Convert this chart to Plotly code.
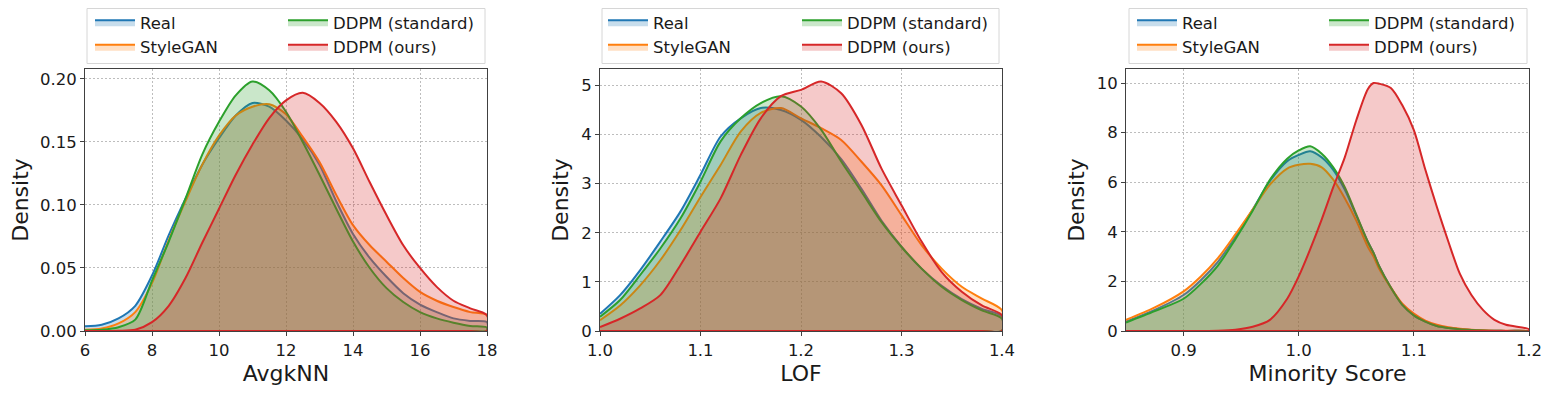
import plotly.graph_objects as go
from plotly.subplots import make_subplots

SERIES = ["Real", "StyleGAN", "DDPM (standard)", "DDPM (ours)"]
COLORS = ["#1f77b4", "#ff7f0e", "#2ca02c", "#d62728"]
FILLS = ["rgba(31,119,180,0.25)", "rgba(255,127,14,0.25)",
         "rgba(44,160,44,0.25)", "rgba(214,39,40,0.25)"]

# AvgkNN panel
avgknn_x = [6, 6.5, 7, 7.5, 8, 8.5, 9, 9.5, 10, 10.5, 11, 11.5, 12,
            12.5, 13, 13.5, 14, 14.5, 15, 15.5, 16, 16.5, 17, 17.5, 18]
avgknn_real = [0.0037, 0.005, 0.010, 0.020, 0.044, 0.076, 0.105, 0.132, 0.153,
               0.171, 0.181, 0.178, 0.167, 0.152, 0.132, 0.103, 0.077, 0.058,
               0.043, 0.030, 0.021, 0.015, 0.010, 0.008, 0.007]
avgknn_stylegan = [0.001, 0.002, 0.006, 0.015, 0.038, 0.072, 0.103, 0.132, 0.155,
                   0.171, 0.178, 0.180, 0.172, 0.154, 0.134, 0.108, 0.084, 0.068,
                   0.055, 0.042, 0.031, 0.024, 0.019, 0.015, 0.0125]
avgknn_ddpm_std = [0.0005, 0.001, 0.003, 0.009, 0.040, 0.071, 0.105, 0.140, 0.166,
                   0.187, 0.198, 0.191, 0.174, 0.150, 0.124, 0.097, 0.071, 0.050,
                   0.034, 0.023, 0.015, 0.010, 0.0066, 0.004, 0.0027]
avgknn_ddpm_ours = [0, 0, 0.0002, 0.001, 0.007, 0.020, 0.042, 0.070, 0.097,
                    0.124, 0.148, 0.169, 0.183, 0.189, 0.181, 0.166, 0.145, 0.118,
                    0.092, 0.068, 0.050, 0.035, 0.024, 0.018, 0.0125]

# LOF panel
lof_x = [1.0, 1.02, 1.04, 1.06, 1.08, 1.10, 1.12, 1.14, 1.16, 1.18, 1.20,
         1.22, 1.24, 1.26, 1.28, 1.30, 1.32, 1.34, 1.36, 1.38, 1.40]
lof_real = [0.35, 0.73, 1.24, 1.82, 2.43, 3.18, 3.96, 4.33, 4.54, 4.50, 4.30,
            3.95, 3.50, 2.90, 2.25, 1.72, 1.27, 0.92, 0.65, 0.45, 0.30]
lof_stylegan = [0.22, 0.52, 0.93, 1.44, 2.05, 2.73, 3.38, 4.06, 4.44, 4.54, 4.33,
                4.13, 3.89, 3.45, 2.97, 2.36, 1.75, 1.27, 0.90, 0.66, 0.42]
lof_ddpm_std = [0.29, 0.63, 1.14, 1.68, 2.29, 3.04, 3.86, 4.33, 4.64, 4.78, 4.57,
                4.10, 3.45, 2.84, 2.22, 1.71, 1.27, 0.90, 0.63, 0.42, 0.25]
lof_ddpm_ours = [0.08, 0.25, 0.46, 0.73, 1.34, 2.02, 2.70, 3.58, 4.33, 4.78, 4.91,
                 5.08, 4.84, 4.20, 3.31, 2.56, 1.82, 1.20, 0.80, 0.52, 0.32]

# Minority Score panel
ms_x = [0.85, 0.875, 0.9, 0.915, 0.93, 0.945, 0.96, 0.975, 0.99, 1.0, 1.01,
        1.02, 1.03, 1.04, 1.05, 1.06, 1.065, 1.07, 1.08, 1.09, 1.1, 1.11,
        1.12, 1.13, 1.14, 1.15, 1.16, 1.17, 1.18, 1.2]
ms_real = [0.38, 0.85, 1.45, 2.05, 2.8, 3.8, 4.9, 6.05, 6.85, 7.1, 7.25, 7.0, 6.5,
           5.7, 4.65, 3.6, 3.15, 2.6, 1.75, 1.05, 0.63, 0.38, 0.2, 0.12, 0.07,
           0.04, 0.02, 0.01, 0.005, 0.002]
ms_stylegan = [0.45, 0.95, 1.6, 2.2, 2.95, 3.9, 4.9, 5.9, 6.55, 6.7, 6.74, 6.6, 6.1,
               5.35, 4.45, 3.4, 3.0, 2.5, 1.75, 1.1, 0.7, 0.42, 0.25, 0.15, 0.09,
               0.05, 0.03, 0.015, 0.008, 0.003]
ms_ddpm_std = [0.34, 0.8, 1.3, 1.9, 2.65, 3.7, 4.85, 6.1, 6.95, 7.28, 7.45, 7.15, 6.6,
               5.8, 4.7, 3.6, 3.15, 2.6, 1.75, 1.05, 0.63, 0.38, 0.2, 0.12, 0.07,
               0.04, 0.02, 0.01, 0.005, 0.002]
ms_ddpm_ours = [0, 0, 0, 0.002, 0.01, 0.05, 0.17, 0.45, 1.3, 2.2, 3.3, 4.5, 5.8,
                7.0, 8.5, 9.75, 10.0, 9.97, 9.8, 9.1, 8.1, 6.5, 5.0, 3.6, 2.3,
                1.45, 0.85, 0.45, 0.25, 0.07]

panels = [
    dict(x=avgknn_x, ys=[avgknn_real, avgknn_stylegan, avgknn_ddpm_std, avgknn_ddpm_ours],
         title="AvgkNN", xrange=[6, 18], xtick=[6, 8, 10, 12, 14, 16, 18], xfmt="d",
         yrange=[0, 0.2079], ytick=[0, 0.05, 0.10, 0.15, 0.20], yfmt=".2f"),
    dict(x=lof_x, ys=[lof_real, lof_stylegan, lof_ddpm_std, lof_ddpm_ours],
         title="LOF", xrange=[1.0, 1.4], xtick=[1.0, 1.1, 1.2, 1.3, 1.4], xfmt=".1f",
         yrange=[0, 5.334], ytick=[0, 1, 2, 3, 4, 5], yfmt="d"),
    dict(x=ms_x, ys=[ms_real, ms_stylegan, ms_ddpm_std, ms_ddpm_ours],
         title="Minority Score", xrange=[0.85, 1.2], xtick=[0.9, 1.0, 1.1, 1.2], xfmt=".1f",
         yrange=[0, 10.565], ytick=[0, 2, 4, 6, 8, 10], yfmt="d"),
]

# the page body adds an 8px margin, so the figure is a bit smaller than the window
OFF = 8
W, H = 1552 - 2 * OFF, 394 - 2 * OFF
ML, MT = 85 - OFF, 69 - OFF
MR = W - (1529 - OFF)
MB = H - (331 - OFF)
PW = W - ML - MR
PH = H - MT - MB


def px_x(p):
    # reference pixel -> paper x
    return (p - OFF - ML) / PW


def px_y(p):
    # reference pixel -> paper y
    return (H - MB - (p - OFF)) / PH


# pixel positions
plot_px = [(85, 487), (600, 1002), (1126, 1529)]
frame_px = [(87, 485), (602, 999), (1129, 1527)]
col_px = [(95, 288), (608, 802), (1137, 1329)]
row_px = [22.5, 47]

FONT = "DejaVu Sans"
fig = make_subplots(rows=1, cols=3)

layout = dict(
    width=W,
    height=H,
    template="none",
    showlegend=True,
    margin=dict(l=ML, r=MR, t=MT, b=MB, autoexpand=False),
    paper_bgcolor="white",
    plot_bgcolor="white",
    font=dict(family=FONT, size=16, color="#1a1a1a"),
    shapes=[],
)

n_leg = 0
for i, p in enumerate(panels):
    base = [0] * len(p["x"])
    for k, name in enumerate(SERIES):
        n_leg += 1
        leg = "legend" if n_leg == 1 else f"legend{n_leg}"
        col, row = (0, k) if k < 2 else (1, k - 2)
        fig.add_trace(
            go.Scatter(
                x=p["x"] + p["x"][::-1],
                y=p["ys"][k] + base,
                mode="lines",
                fill="toself",
                fillcolor=FILLS[k],
                line=dict(color=COLORS[k], width=2, shape="spline", smoothing=0.8),
                name=name,
                legend=leg,
                showlegend=True,
                hoverinfo="skip",
            ),
            row=1,
            col=i + 1,
        )
        layout[leg] = dict(
            x=px_x(col_px[i][col] - 5),
            xanchor="left",
            y=px_y(row_px[row]),
            yanchor="middle",
            bgcolor="rgba(0,0,0,0)",
            borderwidth=0,
            font=dict(family=FONT, size=16.5, color="#1a1a1a"),
            itemwidth=40,
        )

for i, p in enumerate(panels):
    sfx = "" if i == 0 else str(i + 1)
    x0, x1 = plot_px[i]
    layout["xaxis" + sfx] = dict(
        domain=[px_x(x0), px_x(x1)],
        range=p["xrange"],
        tickvals=p["xtick"],
        tickformat=p["xfmt"],
        showline=True, mirror=True, linecolor="#404040", linewidth=1,
        ticks="outside", ticklen=4, tickcolor="#404040",
        showgrid=True, gridcolor="#bdbdbd", griddash="1.5px,2.5px", gridwidth=1,
        zeroline=False,
        tickfont=dict(size=16.5),
        title=dict(text=p["title"], font=dict(size=22), standoff=8),
    )
    layout["yaxis" + sfx] = dict(
        domain=[0, 1],
        range=p["yrange"],
        tickvals=p["ytick"],
        tickformat=p["yfmt"],
        showline=True, mirror=True, linecolor="#404040", linewidth=1,
        ticks="outside", ticklen=4, tickcolor="#404040",
        showgrid=True, gridcolor="#bdbdbd", griddash="1.5px,2.5px", gridwidth=1,
        zeroline=False,
        tickfont=dict(size=16.5),
        title=dict(text="Density", font=dict(size=22), standoff=6),
    )
    fx0, fx1 = frame_px[i]
    layout["shapes"].append(dict(
        type="rect", xref="paper", yref="paper",
        x0=px_x(fx0), x1=px_x(fx1), y0=px_y(63.5), y1=px_y(8.5),
        line=dict(color="#d6d6d6", width=1), fillcolor="rgba(255,255,255,0.8)",
        layer="below",
    ))

fig.update_layout(**layout)
fig.write_html("out.html")
